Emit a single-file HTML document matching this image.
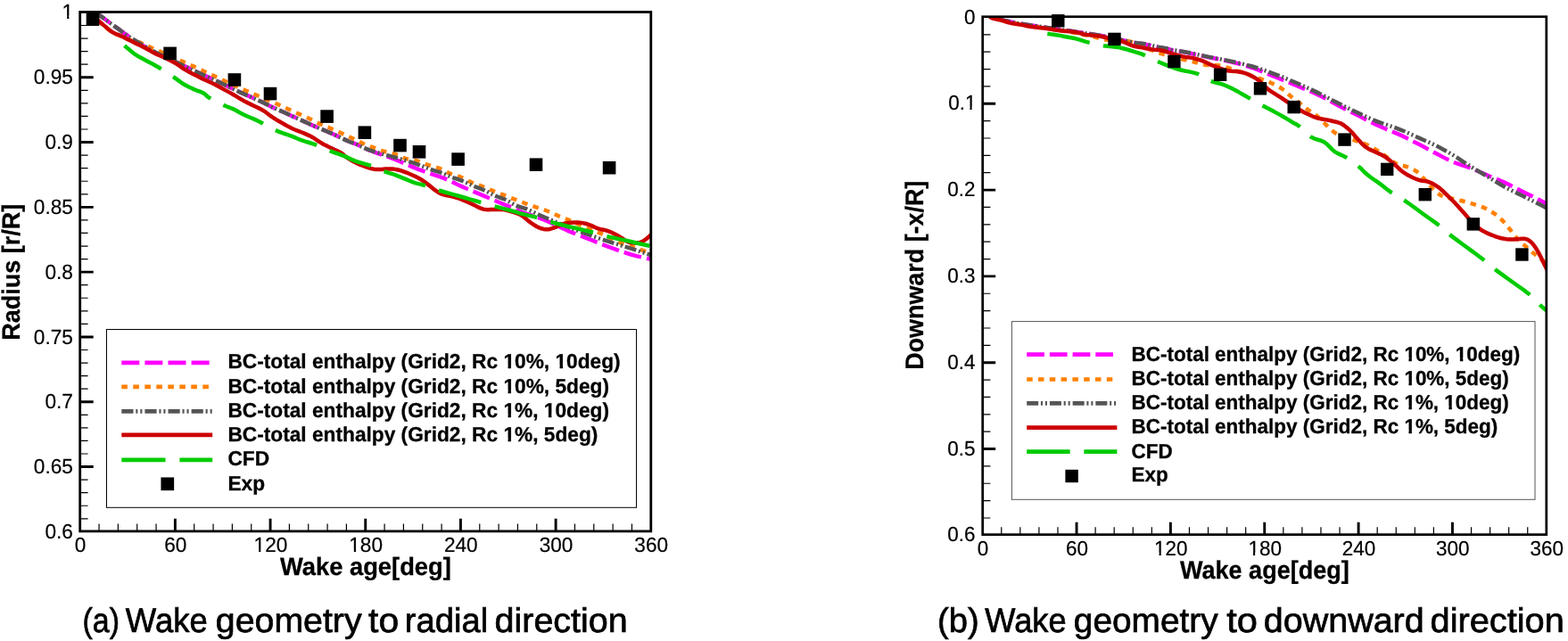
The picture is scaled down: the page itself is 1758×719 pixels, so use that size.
<!DOCTYPE html>
<html lang="en"><head><meta charset="utf-8"><title>Wake geometry</title>
<style>html,body{margin:0;padding:0;background:#fff}body{width:1758px;height:719px;overflow:hidden}svg{display:block;text-rendering:geometricPrecision;font-family:'Liberation Sans', Arial, Helvetica, sans-serif}</style>
</head><body>
<svg width="1758" height="719" viewBox="0 0 1758 719">
<rect width="1758" height="719" fill="#fff"/>
<clipPath id="clipa"><rect x="89.7" y="13.5" width="640.1" height="582.4"/></clipPath>
<g clip-path="url(#clipa)" fill="none" stroke-width="4.5" stroke-linejoin="round">
<path d="M102 11L103.74 12.09L106.23 13.64L109.03 15.43L111.7 17.2L114.13 18.91L116.54 20.68L119.03 22.54L121.7 24.5L124.74 26.7L128.06 29.09L131.26 31.41L134 33.4L136.07 34.94L137.7 36.17L139.16 37.28L140.7 38.4L142.22 39.46L143.64 40.42L145.26 41.5L147.4 42.9L150.26 44.79L153.64 47.01L157.22 49.33L160.7 51.5L163.96 53.46L167.18 55.33L170.49 57.16L174 59L177.73 60.8L181.61 62.55L185.69 64.35L190 66.3L194.75 68.5L199.84 70.88L204.89 73.24L209.5 75.4L213.61 77.35L217.41 79.17L220.89 80.84L224 82.3L226.49 83.42L228.46 84.26L230.42 85.1L232.9 86.2L236.24 87.73L240.1 89.52L243.96 91.32L247.3 92.9L249.75 94.09L251.67 95.06L253.63 96.05L256.2 97.3L259.79 99L264 100.98L268.21 102.95L271.8 104.6L274.36 105.75L276.32 106.59L278.24 107.41L280.7 108.5L284.04 110L287.89 111.73L291.77 113.5L295.2 115.1L297.87 116.43L300.1 117.61L302.33 118.79L305 120.1L308.43 121.66L312.31 123.36L316.16 125.03L319.5 126.5L321.99 127.63L323.95 128.54L325.91 129.46L328.4 130.6L331.76 132.11L335.65 133.85L339.54 135.59L342.9 137.1L345.39 138.25L347.36 139.18L349.32 140.09L351.8 141.2L355.14 142.64L358.99 144.26L362.85 145.88L366.2 147.3L368.68 148.35L370.63 149.18L372.62 150.04L375.2 151.2L378.77 152.88L382.95 154.89L387.13 156.88L390.7 158.5L393.26 159.51L395.21 160.16L397.15 160.79L399.7 161.8L402.84 163.27L406.29 165.02L410.31 166.95L415.1 169L421.06 171.18L427.95 173.53L435.09 175.96L441.8 178.4L448.01 180.94L454.06 183.58L459.82 186.13L465.2 188.4L470.07 190.29L474.53 191.92L478.77 193.41L483 194.9L487.26 196.35L491.46 197.72L495.55 199.11L499.5 200.6L503.25 202.25L506.84 204L510.39 205.77L514 207.5L517.64 209.12L521.26 210.69L525 212.29L529 214L533.45 215.9L538.22 217.92L542.99 219.93L547.4 221.8L551.3 223.47L554.89 225.01L558.38 226.5L562 228L565.98 229.56L570.14 231.14L574.08 232.65L577.4 234L579.43 235.01L580.58 235.78L582.04 236.64L585 237.9L590.08 239.67L596.54 241.76L603.56 244.1L610.3 246.6L616.67 249.37L623.07 252.41L629.41 255.47L635.6 258.3L641.59 260.8L647.42 263.11L653.2 265.34L659 267.6L664.79 269.92L670.53 272.24L676.34 274.54L682.3 276.8L688.6 279.1L695.13 281.42L701.57 283.6L707.6 285.5L713.45 287.09L719.19 288.44L724.24 289.55L728 290.4L730.04 290.91L730.77 291.11L730.87 291.15L731 291.2" stroke="#ff00ff" stroke-dasharray="20 6.1" stroke-dashoffset="19.99"/>
<path d="M100 13.6L102.11 15.61L105.15 18.51L108.42 21.61L111.2 24.2L113.27 26.06L115.01 27.58L116.65 28.96L118.4 30.4L120.28 31.98L122.19 33.59L124.16 35.13L126.2 36.5L128.37 37.64L130.65 38.62L132.93 39.51L135.1 40.4L137.14 41.32L139.11 42.21L141.03 43.05L142.9 43.8L144.72 44.42L146.47 44.94L148.22 45.41L150 45.9L151.73 46.33L153.41 46.7L155.24 47.17L157.4 47.9L160.02 49L162.98 50.36L166.07 51.82L169.1 53.2L172.04 54.46L174.98 55.7L177.91 56.94L180.8 58.2L183.6 59.5L186.35 60.83L189.12 62.16L192 63.5L195.04 64.84L198.19 66.19L201.37 67.55L204.5 68.9L207.58 70.25L210.65 71.59L213.69 72.94L216.7 74.3L219.65 75.67L222.56 77.04L225.47 78.42L228.4 79.8L231.39 81.2L234.42 82.6L237.44 84L240.4 85.4L243.29 86.79L246.12 88.17L248.94 89.54L251.8 90.9L254.7 92.24L257.62 93.56L260.55 94.87L263.5 96.2L266.45 97.55L269.41 98.91L272.39 100.26L275.4 101.6L278.46 102.91L281.56 104.21L284.65 105.5L287.7 106.8L290.69 108.11L293.64 109.42L296.58 110.72L299.5 112L302.4 113.23L305.27 114.42L308.16 115.63L311.1 116.9L314.14 118.26L317.23 119.67L320.34 121.1L323.4 122.5L326.4 123.87L329.37 125.22L332.33 126.56L335.3 127.9L338.31 129.22L341.34 130.54L344.35 131.86L347.3 133.2L350.13 134.59L352.89 136.01L355.65 137.42L358.5 138.8L361.49 140.13L364.56 141.42L367.65 142.7L370.7 144L373.7 145.31L376.68 146.62L379.64 147.95L382.6 149.3L385.56 150.68L388.51 152.08L391.46 153.49L394.4 154.9L397.32 156.32L400.22 157.74L403.14 159.15L406.1 160.5L409.14 161.79L412.23 163.03L415.32 164.23L418.4 165.4L421.43 166.57L424.44 167.71L427.45 168.8L430.5 169.8L433.61 170.62L436.76 171.31L439.9 172.02L443 172.9L446.03 174.07L449.01 175.44L451.98 176.78L455 177.9L458.07 178.65L461.16 179.18L464.28 179.69L467.4 180.4L470.53 181.42L473.67 182.61L476.83 183.85L480 185L483.22 185.98L486.48 186.89L489.69 187.82L492.8 188.9L495.72 190.21L498.51 191.68L501.3 193.16L504.2 194.5L507.29 195.61L510.48 196.59L513.69 197.57L516.8 198.7L519.78 200.07L522.67 201.58L525.56 203.1L528.5 204.5L531.52 205.7L534.59 206.8L537.66 207.87L540.7 209L543.69 210.22L546.66 211.49L549.62 212.76L552.6 214L555.59 215.19L558.58 216.36L561.58 217.52L564.6 218.7L567.66 219.9L570.75 221.11L573.84 222.31L576.9 223.5L579.92 224.67L582.91 225.83L585.9 226.98L588.9 228.1L591.92 229.2L594.94 230.28L597.97 231.35L601 232.4L604.05 233.41L607.1 234.39L610.15 235.4L613.2 236.5L616.24 237.75L619.27 239.11L622.29 240.48L625.3 241.8L628.28 243.02L631.24 244.19L634.2 245.37L637.2 246.6L640.24 247.91L643.32 249.27L646.41 250.64L649.5 252L652.61 253.35L655.74 254.71L658.85 256.03L661.9 257.3L664.88 258.46L667.81 259.54L670.71 260.62L673.6 261.8L676.46 263.1L679.29 264.48L682.12 265.89L685 267.3L687.94 268.73L690.91 270.19L693.9 271.6L696.9 272.9L699.91 274.03L702.92 275.04L705.96 276.01L709 277L712.12 278.04L715.3 279.09L718.4 280.12L721.3 281.1L724.14 282.08L726.92 283.06L729.32 283.91L731 284.5" stroke="#ff8000" stroke-dasharray="6.6 6.4" stroke-dashoffset="0.32"/>
<path d="M102 11L103.74 12.09L106.23 13.64L109.03 15.43L111.7 17.2L114.13 18.91L116.54 20.68L119.03 22.54L121.7 24.5L124.74 26.7L128.06 29.09L131.26 31.41L134 33.4L136.07 34.94L137.7 36.17L139.16 37.28L140.7 38.4L142.22 39.48L143.64 40.46L145.26 41.53L147.4 42.9L150.26 44.69L153.64 46.76L157.22 48.93L160.7 51L163.96 52.92L167.18 54.79L170.49 56.64L174 58.5L177.73 60.33L181.61 62.13L185.69 63.99L190 66L194.75 68.28L199.84 70.74L204.89 73.18L209.5 75.4L213.61 77.37L217.41 79.19L220.89 80.84L224 82.3L226.49 83.42L228.46 84.26L230.42 85.1L232.9 86.2L236.24 87.73L240.1 89.52L243.96 91.32L247.3 92.9L249.75 94.09L251.67 95.06L253.63 96.05L256.2 97.3L259.79 99L264 100.98L268.21 102.95L271.8 104.6L274.36 105.75L276.32 106.59L278.24 107.41L280.7 108.5L284.04 110L287.89 111.73L291.77 113.5L295.2 115.1L297.87 116.43L300.1 117.61L302.33 118.79L305 120.1L308.43 121.66L312.31 123.36L316.16 125.03L319.5 126.5L321.99 127.63L323.95 128.54L325.91 129.46L328.4 130.6L331.76 132.11L335.65 133.85L339.54 135.59L342.9 137.1L345.39 138.25L347.36 139.18L349.32 140.09L351.8 141.2L355.14 142.64L358.99 144.26L362.85 145.88L366.2 147.3L368.68 148.35L370.63 149.18L372.62 150.04L375.2 151.2L378.77 152.88L382.95 154.89L387.13 156.88L390.7 158.5L393.26 159.52L395.21 160.18L397.15 160.82L399.7 161.8L402.91 163.28L406.5 165.04L410.54 166.9L415.1 168.7L420.34 170.37L426.16 172.01L432.31 173.67L438.5 175.4L444.91 177.23L451.59 179.12L458.13 181.03L464.1 182.9L469.41 184.78L474.29 186.68L478.74 188.46L482.8 190L486.3 191.17L489.3 192.08L492.1 192.92L495 193.9L498.1 195.12L501.22 196.45L504.31 197.78L507.3 199L510.11 200.01L512.78 200.89L515.49 201.8L518.4 202.9L521.64 204.31L525.1 205.92L528.56 207.54L531.8 209L534.71 210.18L537.42 211.19L540.09 212.21L542.9 213.4L545.9 214.87L549.01 216.5L552.14 218.13L555.2 219.6L558.16 220.77L561.06 221.77L563.95 222.78L566.9 224L569.93 225.58L573 227.38L576.07 229.17L579.1 230.7L581.92 231.77L584.61 232.56L587.47 233.4L590.8 234.6L594.65 236.29L598.87 238.28L603.46 240.46L608.4 242.7L613.78 245.03L619.57 247.5L625.6 250.02L631.7 252.5L637.88 254.96L644.23 257.42L650.63 259.85L657 262.2L663.37 264.48L669.77 266.7L676.11 268.85L682.3 270.9L688.31 272.82L694.19 274.64L699.97 276.41L705.7 278.2L711.8 280.17L718.12 282.24L723.81 284.12L728 285.5L730.18 286.22L730.89 286.46L730.91 286.47L731 286.5" stroke="#555555" stroke-dasharray="13.2 2.8 2.1 2.9 2.1 3" stroke-dashoffset="21.15"/>
<path d="M100 13.6L102.11 15.55L105.15 18.36L108.42 21.37L111.2 23.9L113.27 25.74L115.01 27.26L116.65 28.65L118.4 30.1L120.28 31.68L122.19 33.29L124.16 34.83L126.2 36.2L128.37 37.33L130.65 38.29L132.93 39.18L135.1 40.1L137.1 41.06L139 42.02L140.9 42.99L142.9 44L144.99 45.04L147.14 46.09L149.39 47.2L151.8 48.4L154.44 49.7L157.26 51.09L160.15 52.54L163 54L165.83 55.54L168.69 57.16L171.48 58.72L174.1 60.1L176.37 61.16L178.41 62.01L180.51 62.88L183 64L186.12 65.48L189.65 67.18L193.2 68.97L196.4 70.7L199.05 72.37L201.39 74.04L203.66 75.69L206.1 77.3L208.8 78.87L211.61 80.41L214.47 81.92L217.3 83.4L220.08 84.85L222.86 86.27L225.63 87.65L228.4 89L231.17 90.27L233.94 91.47L236.72 92.69L239.5 94L242.3 95.45L245.1 96.98L247.9 98.55L250.7 100.1L253.48 101.61L256.25 103.11L259.02 104.63L261.8 106.2L264.6 107.86L267.4 109.58L270.2 111.29L273 112.9L275.78 114.38L278.56 115.78L281.33 117.13L284.1 118.5L286.91 119.84L289.73 121.15L292.52 122.51L295.2 124L297.71 125.69L300.1 127.53L302.49 129.4L305 131.2L307.68 132.92L310.46 134.62L313.29 136.28L316.1 137.9L318.9 139.5L321.7 141.09L324.5 142.6L327.3 144L330.08 145.23L332.86 146.32L335.63 147.38L338.4 148.5L341.17 149.66L343.94 150.83L346.72 152.08L349.5 153.5L352.3 155.18L355.1 157.06L357.9 158.96L360.7 160.7L363.48 162.21L366.25 163.61L369.02 164.94L371.8 166.3L374.75 167.72L377.82 169.16L380.68 170.55L383 171.8L384.4 172.8L385.16 173.62L385.91 174.49L387.3 175.6L389.6 177.12L392.43 178.91L395.47 180.71L398.4 182.3L401.25 183.63L404.16 184.81L406.96 185.87L409.5 186.8L411.71 187.61L413.68 188.28L415.5 188.84L417.3 189.3L419.03 189.65L420.65 189.89L422.27 190.03L424 190.1L425.85 190.05L427.76 189.9L429.75 189.72L431.8 189.6L433.95 189.52L436.18 189.46L438.45 189.46L440.7 189.6L442.87 189.86L445.01 190.23L447.21 190.73L449.6 191.4L452.24 192.27L455.06 193.32L457.95 194.48L460.8 195.7L463.61 196.95L466.44 198.27L469.22 199.68L471.9 201.2L474.49 202.91L477.01 204.76L479.42 206.64L481.7 208.4L483.79 210.05L485.73 211.66L487.6 213.16L489.5 214.5L491.37 215.67L493.19 216.69L495.12 217.59L497.3 218.4L499.84 219.05L502.64 219.55L505.55 220.05L508.4 220.7L511.17 221.54L513.94 222.48L516.72 223.51L519.5 224.6L522.3 225.77L525.1 227.03L527.9 228.32L530.7 229.6L533.48 230.96L536.25 232.38L539.02 233.67L541.8 234.6L544.6 235.05L547.4 235.16L550.2 235.12L553 235.1L555.78 235.07L558.56 234.96L561.33 234.91L564.1 235.1L566.91 235.58L569.73 236.26L572.52 237.06L575.2 237.9L577.74 238.71L580.19 239.54L582.59 240.53L585 241.8L587.43 243.5L589.85 245.53L592.27 247.61L594.7 249.5L597.15 251.2L599.6 252.81L602.05 254.25L604.5 255.4L606.93 256.27L609.36 256.9L611.78 257.26L614.2 257.3L616.62 256.94L619.04 256.21L621.47 255.31L623.9 254.4L626.25 253.43L628.56 252.33L630.98 251.29L633.7 250.5L636.88 249.98L640.38 249.63L643.94 249.47L647.3 249.5L650.36 249.72L653.27 250.13L656.13 250.73L659 251.5L661.9 252.57L664.8 253.89L667.7 255.25L670.6 256.4L673.52 257.2L676.44 257.79L679.37 258.42L682.3 259.3L685.23 260.52L688.15 261.96L691.08 263.51L694 265.1L696.92 266.89L699.85 268.86L702.78 270.65L705.7 271.9L708.76 272.45L711.92 272.51L714.89 272.26L717.4 271.9L719.29 271.4L720.73 270.69L721.96 269.86L723.2 269L724.51 268.08L725.78 267.06L726.95 266.04L728 265.1L728.95 264.2L729.8 263.31L730.5 262.54L731 262" stroke="#cc0000"/>
<path d="M139.6 51.2L141.82 53.09L145 55.81L148.53 58.73L151.8 61.2L154.56 62.95L157.16 64.37L159.88 65.75L163 67.4L166.69 69.4L170.76 71.59L174.97 73.91L179.1 76.3L183.2 78.86L187.36 81.57L191.37 84.25L195 86.7L198.11 88.88L200.84 90.9L203.43 92.77L206.1 94.5L208.9 96.08L211.7 97.51L214.5 98.83L217.3 100.1L220.2 101.29L223.17 102.39L225.98 103.47L228.4 104.6L230.04 105.74L231.13 106.86L232.38 108.11L234.5 109.6L237.96 111.53L242.29 113.78L246.77 116.01L250.7 117.9L253.83 119.25L256.56 120.29L259.14 121.25L261.8 122.4L264.46 123.78L267.03 125.26L269.79 126.84L273 128.5L276.8 130.21L281.02 131.99L285.48 133.9L290 136L294.6 138.44L299.36 141.15L304.17 143.83L308.9 146.2L313.71 148.17L318.59 149.91L323.23 151.46L327.3 152.9L330.48 154.17L333.03 155.26L335.48 156.29L338.4 157.4L341.98 158.58L345.92 159.76L349.99 161.02L354 162.4L357.85 163.96L361.67 165.66L365.55 167.4L369.6 169.1L374.03 170.77L378.73 172.46L383.29 174.09L387.3 175.6L390.41 176.95L392.91 178.19L395.39 179.38L398.4 180.6L402.21 181.84L406.47 183.06L410.87 184.33L415.1 185.7L419.15 187.26L423.18 188.96L427.06 190.63L430.7 192.1L434.04 193.28L437.13 194.27L440.09 195.2L443 196.2L445.86 197.3L448.62 198.43L451.35 199.57L454.1 200.7L456.89 201.84L459.68 203.01L462.46 204.11L465.2 205.1L467.76 205.85L470.2 206.43L472.79 207.05L475.8 207.9L479.23 209.06L482.96 210.41L487.08 211.88L491.7 213.4L497 214.97L502.88 216.62L508.99 218.31L515 220L521.05 221.74L527.23 223.54L533.18 225.26L538.5 226.8L542.83 228.04L546.45 229.08L550 230.07L554.1 231.2L559.25 232.58L565.01 234.09L570.59 235.55L575.2 236.8L578.31 237.71L580.44 238.41L582.41 239.05L585 239.8L588.47 240.68L592.38 241.61L596.5 242.61L600.6 243.7L604.51 244.92L608.39 246.24L612.5 247.62L617.1 249L622.38 250.38L628.15 251.78L634.12 253.19L640 254.6L645.85 256.02L651.79 257.44L657.55 258.85L662.9 260.2L667.49 261.46L671.54 262.66L675.65 263.86L680.4 265.1L686.09 266.42L692.36 267.78L698.8 269.15L705 270.5L711.33 271.94L717.85 273.44L723.69 274.8L728 275.8L730.23 276.31L730.94 276.48L730.93 276.48L731 276.5" stroke="#00cc00" stroke-dasharray="49.2 15.9" stroke-dashoffset="0.3"/>
</g>
<rect x="89.7" y="13.5" width="640.1" height="582.4" fill="none" stroke="#000" stroke-width="2.8"/>
<g fill="#000">
<rect x="96.7" y="14.4" width="14.6" height="14.6"/>
<rect x="183.3" y="52.6" width="14.6" height="14.6"/>
<rect x="255.6" y="82.2" width="14.6" height="14.6"/>
<rect x="295.7" y="97.8" width="14.6" height="14.6"/>
<rect x="359.3" y="123.3" width="14.6" height="14.6"/>
<rect x="401.6" y="141.4" width="14.6" height="14.6"/>
<rect x="441.2" y="155.8" width="14.6" height="14.6"/>
<rect x="462.7" y="163" width="14.6" height="14.6"/>
<rect x="506.3" y="171.3" width="14.6" height="14.6"/>
<rect x="593.7" y="177.4" width="14.6" height="14.6"/>
<rect x="675.8" y="180.9" width="14.6" height="14.6"/>
</g>
<g stroke="#000" fill="none">
<path d="M196.38 595.9V581.7M303.07 595.9V581.7M409.75 595.9V581.7M516.43 595.9V581.7M623.12 595.9V581.7M89.7 86.75H104.7M89.7 159.55H104.7M89.7 232.35H104.7M89.7 305.15H104.7M89.7 377.95H104.7M89.7 450.75H104.7M89.7 523.55H104.7" stroke-width="2.9"/>
<path d="M111.04 595.9V587.5M132.37 595.9V587.5M153.71 595.9V587.5M175.05 595.9V587.5M217.72 595.9V587.5M239.06 595.9V587.5M260.39 595.9V587.5M281.73 595.9V587.5M324.4 595.9V587.5M345.74 595.9V587.5M367.08 595.9V587.5M388.41 595.9V587.5M431.09 595.9V587.5M452.42 595.9V587.5M473.76 595.9V587.5M495.1 595.9V587.5M537.77 595.9V587.5M559.11 595.9V587.5M580.44 595.9V587.5M601.78 595.9V587.5M644.45 595.9V587.5M665.79 595.9V587.5M687.13 595.9V587.5M708.46 595.9V587.5M89.7 28.51H98.6M89.7 43.07H98.6M89.7 57.63H98.6M89.7 72.19H98.6M89.7 101.31H98.6M89.7 115.87H98.6M89.7 130.43H98.6M89.7 144.99H98.6M89.7 174.11H98.6M89.7 188.67H98.6M89.7 203.23H98.6M89.7 217.79H98.6M89.7 246.91H98.6M89.7 261.47H98.6M89.7 276.03H98.6M89.7 290.59H98.6M89.7 319.71H98.6M89.7 334.27H98.6M89.7 348.83H98.6M89.7 363.39H98.6M89.7 392.51H98.6M89.7 407.07H98.6M89.7 421.63H98.6M89.7 436.19H98.6M89.7 465.31H98.6M89.7 479.87H98.6M89.7 494.43H98.6M89.7 508.99H98.6M89.7 538.11H98.6M89.7 552.67H98.6M89.7 567.23H98.6M89.7 581.79H98.6" stroke-width="1.2"/>
</g>
<g font-size="23.3" fill="#000" stroke="#000" stroke-width="0.2">
<g text-anchor="middle">
<text transform="translate(90.1 619.35) scale(0.972 1)">0</text>
<text transform="translate(196.78 619.35) scale(0.972 1)">60</text>
<text transform="translate(303.47 619.35) scale(0.972 1)">120</text>
<path transform="translate(303.47 619.35) scale(0.972 1)" d="M-18.96 -3.04H-13.73V1.3H-18.96ZM-11.37 -3.04H-6.32V1.3H-11.37Z" fill="#fff" stroke="none"/>
<text transform="translate(410.15 619.35) scale(0.972 1)">180</text>
<path transform="translate(410.15 619.35) scale(0.972 1)" d="M-18.96 -3.04H-13.73V1.3H-18.96ZM-11.37 -3.04H-6.32V1.3H-11.37Z" fill="#fff" stroke="none"/>
<text transform="translate(516.83 619.35) scale(0.972 1)">240</text>
<text transform="translate(623.52 619.35) scale(0.972 1)">300</text>
<text transform="translate(730.2 619.35) scale(0.972 1)">360</text>
</g>
<g text-anchor="end">
<text transform="translate(82.2 20.5) scale(0.972 1)">1</text>
<path transform="translate(82.2 20.5) scale(0.972 1)" d="M-12.49 -3.04H-7.26V1.3H-12.49ZM-4.9 -3.04H0.15V1.3H-4.9Z" fill="#fff" stroke="none"/>
<text transform="translate(81.9 94.3) scale(0.972 1)">0.95</text>
<text transform="translate(81.9 167.1) scale(0.972 1)">0.9</text>
<text transform="translate(81.9 239.9) scale(0.972 1)">0.85</text>
<text transform="translate(81.9 312.7) scale(0.972 1)">0.8</text>
<text transform="translate(81.9 385.5) scale(0.972 1)">0.75</text>
<text transform="translate(81.9 458.3) scale(0.972 1)">0.7</text>
<text transform="translate(81.9 531.1) scale(0.972 1)">0.65</text>
<text transform="translate(81.9 603.9) scale(0.972 1)">0.6</text>
</g>
</g>
<g font-size="28.1" font-weight="bold" text-anchor="middle" fill="#000" stroke="#000" stroke-width="0.3">
<text x="409.9" y="645.2" textLength="191.8" lengthAdjust="spacingAndGlyphs">Wake age[deg]</text>
<text transform="translate(22 305.3) rotate(-90)" textLength="153" lengthAdjust="spacingAndGlyphs">Radius [r/R]</text>
</g>
<rect x="119.5" y="369.5" width="594" height="199.8" fill="#fff" stroke="#000" stroke-width="1.0"/>
<g fill="none" stroke-width="4.7">
<path d="M136.3 406.8H238.2" stroke="#ff00ff" stroke-dasharray="20 6.1"/>
<path d="M136.3 433.9H238.2" stroke="#ff8000" stroke-dasharray="6.6 6.4"/>
<path d="M136.3 461.4H238.2" stroke="#555555" stroke-dasharray="13.2 2.8 2.1 2.9 2.1 3"/>
<path d="M136.3 487.9H238.2" stroke="#cc0000"/>
<path d="M136.3 515.8H238.2" stroke="#00cc00" stroke-dasharray="49.2 15.9"/>
</g>
<rect x="180.45" y="535.45" width="14.7" height="14.7" fill="#000"/>
<g font-size="23.05" font-weight="bold" fill="#000" stroke="#000" stroke-width="0.3">
<text transform="translate(255.4 413.4) scale(0.985 1)">BC-total enthalpy (Grid2, Rc 10%, 10deg)</text>
<path transform="translate(255.4 413.4) scale(0.985 1)" d="M313.82 -3.7H318.9V1.35H313.82ZM322.46 -3.7H327.25V1.35H322.46ZM372.74 -3.7H377.82V1.35H372.74ZM381.38 -3.7H386.17V1.35H381.38Z" fill="#fff" stroke="none"/>
<text transform="translate(255.4 440.9) scale(0.985 1)">BC-total enthalpy (Grid2, Rc 10%, 5deg)</text>
<path transform="translate(255.4 440.9) scale(0.985 1)" d="M313.82 -3.7H318.9V1.35H313.82ZM322.46 -3.7H327.25V1.35H322.46Z" fill="#fff" stroke="none"/>
<text transform="translate(255.4 468.2) scale(0.985 1)">BC-total enthalpy (Grid2, Rc 1%, 10deg)</text>
<path transform="translate(255.4 468.2) scale(0.985 1)" d="M313.82 -3.7H318.9V1.35H313.82ZM322.46 -3.7H327.25V1.35H322.46ZM359.93 -3.7H365.01V1.35H359.93ZM368.57 -3.7H373.36V1.35H368.57Z" fill="#fff" stroke="none"/>
<text transform="translate(255.4 495.2) scale(0.985 1)">BC-total enthalpy (Grid2, Rc 1%, 5deg)</text>
<path transform="translate(255.4 495.2) scale(0.985 1)" d="M313.82 -3.7H318.9V1.35H313.82ZM322.46 -3.7H327.25V1.35H322.46Z" fill="#fff" stroke="none"/>
<text transform="translate(255.4 522.4) scale(0.985 1)">CFD</text>
<text transform="translate(255.4 550) scale(0.985 1)">Exp</text>
</g>
<text y="709" font-size="38.4" fill="#000" stroke="#000" stroke-width="0.7"><tspan x="92.49" textLength="41.51" lengthAdjust="spacingAndGlyphs">(a)</tspan> <tspan x="140.84" textLength="91.85" lengthAdjust="spacingAndGlyphs">Wake</tspan> <tspan x="241.85" textLength="163.73" lengthAdjust="spacingAndGlyphs">geometry</tspan> <tspan x="413.08" textLength="34.14" lengthAdjust="spacingAndGlyphs">to</tspan> <tspan x="453.86" textLength="93.39" lengthAdjust="spacingAndGlyphs">radial</tspan> <tspan x="554.54" textLength="149.22" lengthAdjust="spacingAndGlyphs">direction</tspan></text>
<clipPath id="clipb"><rect x="1101.7" y="18.75" width="632.1" height="580.9"/></clipPath>
<g clip-path="url(#clipb)" fill="none" stroke-width="4.5" stroke-linejoin="round">
<path d="M1109.5 18.3L1111.76 18.99L1115 19.99L1118.62 21.07L1122 22L1125.06 22.74L1128.09 23.39L1131.08 24L1134 24.6L1136.49 25.15L1138.69 25.64L1141.29 26.16L1145 26.8L1150.15 27.58L1156.31 28.46L1163.07 29.41L1170 30.4L1177.15 31.44L1184.69 32.54L1192.38 33.67L1200 34.8L1207.73 35.93L1215.62 37.07L1223.2 38.21L1230 39.3L1235.66 40.32L1240.51 41.3L1245.11 42.28L1250 43.3L1255.57 44.46L1261.45 45.7L1267.05 46.87L1271.8 47.8L1275.3 48.37L1277.93 48.69L1280.3 48.96L1283 49.4L1286.2 50.09L1289.58 50.91L1293 51.75L1296.3 52.5L1299.58 53.15L1302.88 53.74L1305.96 54.29L1308.6 54.8L1310.45 55.24L1311.73 55.61L1313.05 55.98L1315 56.4L1317.6 56.81L1320.57 57.22L1324.11 57.74L1328.4 58.5L1333.72 59.6L1339.89 60.96L1346.44 62.41L1352.9 63.8L1359.22 65.06L1365.63 66.29L1372.07 67.58L1378.5 69L1384.9 70.55L1391.31 72.19L1397.71 73.98L1404.1 76L1410.49 78.33L1416.87 80.91L1423.22 83.59L1429.5 86.2L1435.71 88.71L1441.88 91.21L1447.97 93.7L1454 96.2L1459.93 98.65L1465.77 101.06L1471.58 103.54L1477.4 106.2L1483.22 109.11L1489.01 112.19L1494.85 115.35L1500.8 118.5L1506.98 121.67L1513.32 124.9L1519.6 128.08L1525.6 131.1L1531.16 133.93L1536.44 136.62L1541.68 139.23L1547.1 141.8L1552.84 144.29L1558.76 146.7L1564.67 149.11L1570.4 151.6L1575.97 154.24L1581.45 156.97L1586.75 159.69L1591.8 162.3L1596.45 164.75L1600.78 167.11L1605.04 169.43L1609.5 171.8L1614.23 174.3L1619.09 176.87L1624 179.35L1628.9 181.6L1633.77 183.47L1638.64 185.09L1643.52 186.66L1648.4 188.4L1653.28 190.39L1658.16 192.52L1663.03 194.68L1667.9 196.8L1672.75 198.81L1677.6 200.76L1682.45 202.76L1687.3 204.9L1692.17 207.23L1697.04 209.7L1701.92 212.22L1706.8 214.7L1711.9 217.23L1717.16 219.81L1722.11 222.27L1726.3 224.4L1729.64 226.22L1732.37 227.81L1734.49 229.09L1736 230" stroke="#ff00ff" stroke-dasharray="19.7 6.01" stroke-dashoffset="15.45"/>
<path d="M1109.5 18.3L1111.5 19.06L1114.31 20.14L1117.84 21.38L1122 22.6L1126.96 23.83L1132.72 25.14L1138.86 26.43L1145 27.6L1150.99 28.59L1157.06 29.47L1163.35 30.34L1170 31.3L1177.27 32.4L1185 33.57L1192.73 34.78L1200 36L1206.85 37.26L1213.47 38.58L1219.61 39.85L1225 41L1229.34 42.03L1232.84 42.97L1236.05 43.8L1239.5 44.5L1243.38 45.03L1247.38 45.42L1251.32 45.73L1255 46L1258.2 46.08L1261.07 45.99L1264.01 46.08L1267.4 46.7L1271.45 48.09L1275.92 50.01L1280.53 52.1L1285 54L1289.39 55.67L1293.79 57.29L1298.03 58.79L1301.9 60.1L1305.25 61.14L1308.21 61.98L1311.05 62.73L1314 63.5L1317.14 64.32L1320.34 65.14L1323.55 65.93L1326.7 66.7L1329.77 67.41L1332.79 68.09L1335.82 68.77L1338.9 69.5L1342.04 70.38L1345.23 71.36L1348.44 72.25L1351.7 72.9L1355.03 73.13L1358.43 73.08L1361.81 73.01L1365.1 73.2L1368.29 73.74L1371.42 74.49L1374.47 75.34L1377.4 76.2L1380.18 77.09L1382.84 78.05L1385.43 79.01L1388 79.9L1390.59 80.69L1393.16 81.42L1395.65 82.15L1398 82.9L1400.14 83.73L1402.13 84.59L1404.05 85.43L1406 86.2L1407.89 86.81L1409.72 87.32L1411.66 87.87L1413.9 88.6L1416.56 89.56L1419.51 90.66L1422.59 91.88L1425.6 93.2L1428.57 94.61L1431.57 96.11L1434.52 97.74L1437.3 99.5L1439.85 101.47L1442.24 103.61L1444.58 105.79L1447 107.9L1449.55 109.89L1452.15 111.84L1454.75 113.76L1457.3 115.7L1459.76 117.68L1462.18 119.67L1464.58 121.63L1467 123.5L1469.44 125.18L1471.89 126.73L1474.34 128.34L1476.8 130.2L1479.27 132.44L1481.76 134.92L1484.24 137.47L1486.7 139.9L1489.12 142.26L1491.51 144.61L1493.92 146.8L1496.4 148.7L1498.96 150.2L1501.57 151.41L1504.24 152.46L1507 153.5L1509.8 154.51L1512.65 155.42L1515.62 156.35L1518.8 157.4L1522.23 158.53L1525.86 159.71L1529.61 161.06L1533.4 162.7L1537.21 164.69L1541.08 166.95L1545.01 169.41L1549 172L1553.17 174.95L1557.49 178.22L1561.69 181.31L1565.5 183.7L1568.77 185.06L1571.68 185.74L1574.42 186.22L1577.2 187L1580.12 188.15L1583.05 189.43L1585.88 190.86L1588.5 192.5L1590.8 194.36L1592.86 196.42L1594.87 198.64L1597 201L1599.3 203.61L1601.67 206.45L1604.08 209.26L1606.5 211.8L1608.86 214.04L1611.21 216.11L1613.65 217.94L1616.3 219.5L1619.26 220.69L1622.46 221.56L1625.72 222.27L1628.9 223L1631.96 223.73L1634.97 224.4L1637.97 225.07L1641 225.8L1644.06 226.6L1647.14 227.45L1650.23 228.35L1653.3 229.3L1656.38 230.28L1659.47 231.3L1662.53 232.42L1665.5 233.7L1668.4 235.18L1671.24 236.81L1673.98 238.56L1676.6 240.4L1679.05 242.31L1681.36 244.31L1683.59 246.43L1685.8 248.7L1687.99 251.17L1690.13 253.8L1692.26 256.51L1694.4 259.2L1696.58 261.94L1698.76 264.76L1700.94 267.47L1703.1 269.9L1705.18 271.91L1707.21 273.62L1709.29 275.27L1711.5 277.1L1713.95 279.24L1716.55 281.54L1719.15 283.82L1721.6 285.9L1723.88 287.75L1726.06 289.47L1728.11 291.05L1730 292.5L1731.81 293.88L1733.53 295.16L1734.98 296.24L1736 297" stroke="#ff8000" stroke-dasharray="6.5 6.3" stroke-dashoffset="9.37"/>
<path d="M1109.5 18.3L1111.76 18.99L1115 19.99L1118.62 21.07L1122 22L1125.06 22.74L1128.09 23.39L1131.08 24L1134 24.6L1136.49 25.15L1138.69 25.64L1141.29 26.16L1145 26.8L1150.15 27.58L1156.31 28.46L1163.07 29.41L1170 30.4L1177.15 31.44L1184.69 32.54L1192.38 33.67L1200 34.8L1207.73 35.93L1215.62 37.07L1223.2 38.21L1230 39.3L1235.66 40.32L1240.51 41.3L1245.11 42.28L1250 43.3L1255.57 44.46L1261.45 45.71L1267.05 46.88L1271.8 47.8L1275.3 48.33L1277.93 48.59L1280.3 48.8L1283 49.2L1286.2 49.88L1289.58 50.7L1293 51.55L1296.3 52.3L1299.58 52.92L1302.88 53.49L1305.96 54.01L1308.6 54.5L1310.45 54.95L1311.73 55.36L1313.05 55.77L1315 56.2L1317.6 56.6L1320.57 56.98L1324.11 57.47L1328.4 58.2L1333.72 59.28L1339.89 60.61L1346.44 62.04L1352.9 63.4L1359.22 64.64L1365.63 65.84L1372.07 67.08L1378.5 68.4L1384.93 69.8L1391.38 71.24L1397.79 72.79L1404.1 74.5L1410.29 76.39L1416.39 78.44L1422.42 80.59L1428.4 82.8L1434.31 85.06L1440.16 87.41L1445.97 89.82L1451.8 92.3L1457.66 94.85L1463.54 97.46L1469.39 100.15L1475.2 102.9L1480.92 105.75L1486.58 108.68L1492.24 111.65L1498 114.6L1503.89 117.56L1509.87 120.54L1515.86 123.47L1521.8 126.3L1527.66 129.02L1533.48 131.67L1539.28 134.21L1545.1 136.6L1550.95 138.75L1556.8 140.7L1562.65 142.65L1568.5 144.8L1574.46 147.28L1580.51 149.96L1586.37 152.64L1591.8 155.1L1596.58 157.2L1600.89 159.07L1605.09 160.96L1609.5 163.1L1614.23 165.54L1619.09 168.16L1624 170.93L1628.9 173.8L1633.77 176.84L1638.64 180.04L1643.52 183.27L1648.4 186.4L1653.28 189.39L1658.16 192.31L1663.03 195.2L1667.9 198.1L1672.75 201.07L1677.6 204.08L1682.45 207.02L1687.3 209.8L1692.17 212.36L1697.04 214.77L1701.92 217.11L1706.8 219.5L1711.9 222.05L1717.16 224.68L1722.11 227.17L1726.3 229.3L1729.64 231.05L1732.37 232.51L1734.49 233.67L1736 234.5" stroke="#555555" stroke-dasharray="13 2.76 2.07 2.86 2.07 2.96" stroke-dashoffset="14.93"/>
<path d="M1109.5 18.3L1109.98 18.72L1110.64 19.31L1111.6 19.98L1113 20.6L1114.97 21.13L1117.42 21.64L1120.1 22.18L1122.8 22.8L1125.5 23.59L1128.32 24.48L1131.17 25.36L1134 26.1L1136.78 26.63L1139.56 27.02L1142.33 27.38L1145.1 27.8L1147.87 28.34L1150.64 28.93L1153.42 29.51L1156.2 30L1159 30.36L1161.8 30.64L1164.6 30.9L1167.4 31.2L1170.18 31.57L1172.95 31.97L1175.72 32.38L1178.5 32.8L1181.3 33.23L1184.1 33.68L1186.9 34.11L1189.7 34.5L1192.56 34.82L1195.46 35.09L1198.26 35.34L1200.8 35.6L1202.99 35.85L1204.92 36.09L1206.75 36.36L1208.6 36.7L1210.41 37.15L1212.14 37.69L1213.97 38.23L1216.1 38.7L1218.64 39.06L1221.47 39.37L1224.42 39.66L1227.3 40L1229.87 40.32L1232.29 40.62L1234.99 41.03L1238.4 41.7L1243 42.73L1248.45 44.02L1253.9 45.41L1258.5 46.7L1261.91 47.91L1264.61 49.12L1267.04 50.25L1269.6 51.2L1272.37 51.92L1275.14 52.46L1277.92 52.92L1280.7 53.4L1283.5 53.93L1286.3 54.46L1289.1 54.95L1291.9 55.4L1294.73 55.74L1297.59 56L1300.38 56.29L1303 56.7L1305.26 57.27L1307.26 57.94L1309.35 58.69L1311.9 59.5L1315.15 60.45L1318.86 61.52L1322.64 62.55L1326.1 63.4L1329.11 63.94L1331.89 64.29L1334.58 64.61L1337.3 65.1L1340.08 65.77L1342.86 66.54L1345.63 67.42L1348.4 68.4L1351.07 69.52L1353.67 70.76L1356.41 72.07L1359.5 73.4L1363.19 74.86L1367.29 76.44L1371.4 77.9L1375.1 79L1378.26 79.58L1381.12 79.79L1383.76 79.89L1386.3 80.1L1388.69 80.43L1390.89 80.77L1393.03 81.21L1395.2 81.8L1397.45 82.59L1399.72 83.54L1401.95 84.6L1404.1 85.7L1406.08 86.77L1407.94 87.86L1409.84 89.11L1411.9 90.7L1414.18 92.79L1416.59 95.26L1419.11 97.8L1421.7 100.1L1424.41 102.07L1427.23 103.87L1430.06 105.59L1432.8 107.3L1435.27 108.93L1437.57 110.47L1440.01 112.1L1442.9 114L1446.57 116.4L1450.78 119.14L1454.94 121.81L1458.5 124L1461.2 125.53L1463.37 126.64L1465.33 127.56L1467.4 128.5L1469.57 129.52L1471.71 130.49L1473.92 131.4L1476.3 132.2L1479.01 132.87L1481.96 133.43L1484.85 133.93L1487.4 134.4L1489.4 134.81L1491.04 135.16L1492.64 135.52L1494.5 136L1496.74 136.52L1499.18 137.06L1501.71 137.8L1504.2 138.9L1506.69 140.48L1509.22 142.43L1511.69 144.56L1514 146.7L1516.05 148.81L1517.91 150.98L1519.76 153.21L1521.8 155.5L1524.04 157.95L1526.41 160.54L1528.89 163.03L1531.5 165.2L1534.33 166.95L1537.35 168.4L1540.37 169.7L1543.2 171L1545.77 172.22L1548.17 173.33L1550.52 174.49L1552.9 175.9L1555.32 177.62L1557.74 179.56L1560.17 181.61L1562.6 183.7L1565.05 185.9L1567.5 188.22L1569.95 190.49L1572.4 192.5L1574.83 194.21L1577.26 195.71L1579.68 197.05L1582.1 198.3L1584.52 199.46L1586.94 200.5L1589.36 201.42L1591.8 202.2L1594.24 202.7L1596.69 202.98L1599.16 203.32L1601.7 204L1604.37 205.12L1607.12 206.53L1609.85 208.12L1612.4 209.8L1614.69 211.56L1616.81 213.46L1618.89 215.47L1621.1 217.6L1623.47 219.87L1625.94 222.27L1628.43 224.76L1630.9 227.3L1633.38 229.95L1635.88 232.71L1638.31 235.44L1640.6 238L1642.59 240.29L1644.38 242.4L1646.22 244.51L1648.4 246.8L1651.05 249.46L1654.01 252.34L1657.08 255.12L1660.1 257.5L1663.03 259.34L1665.96 260.82L1668.88 262.1L1671.8 263.3L1674.7 264.47L1677.6 265.52L1680.5 266.45L1683.4 267.2L1686.32 267.78L1689.24 268.19L1692.17 268.46L1695.1 268.6L1698.16 268.51L1701.31 268.22L1704.28 267.92L1706.8 267.8L1708.7 267.85L1710.16 267.99L1711.44 268.31L1712.8 268.9L1714.28 269.77L1715.76 270.87L1717.23 272.21L1718.7 273.8L1720.15 275.66L1721.6 277.78L1723.05 280.11L1724.5 282.6L1726.04 285.44L1727.63 288.58L1729.13 291.64L1730.4 294.2L1731.36 296.13L1732.11 297.66L1732.73 298.93L1733.3 300.1L1733.85 301.21L1734.33 302.17L1734.72 302.95L1735 303.5" stroke="#cc0000"/>
<path d="M1173.5 37.8L1175.39 38.04L1178.11 38.37L1181.17 38.77L1184.1 39.2L1186.84 39.65L1189.61 40.15L1192.41 40.67L1195.2 41.2L1197.92 41.69L1200.61 42.16L1203.39 42.7L1206.4 43.4L1209.68 44.32L1213.16 45.41L1216.8 46.55L1220.6 47.6L1224.57 48.57L1228.72 49.52L1232.99 50.41L1237.3 51.2L1241.75 51.81L1246.34 52.28L1250.86 52.76L1255.1 53.4L1258.98 54.24L1262.62 55.21L1266.13 56.24L1269.6 57.3L1272.99 58.32L1276.27 59.34L1279.56 60.47L1283 61.8L1286.59 63.42L1290.28 65.26L1294.07 67.17L1298 69L1302.25 70.79L1306.74 72.59L1311.12 74.28L1315 75.7L1318.06 76.75L1320.57 77.53L1323.07 78.21L1326.1 79L1329.92 79.83L1334.2 80.65L1338.61 81.62L1342.8 82.9L1346.74 84.74L1350.59 86.97L1354.32 89.19L1357.9 91L1361.3 92.18L1364.55 92.99L1367.67 93.71L1370.7 94.6L1373.59 95.73L1376.35 96.94L1379.06 98.24L1381.8 99.6L1384.6 101.04L1387.41 102.57L1390.21 104.14L1393 105.7L1395.75 107.26L1398.47 108.83L1401.21 110.41L1404 112L1406.86 113.62L1409.76 115.26L1412.68 116.9L1415.6 118.5L1418.53 120.05L1421.48 121.58L1424.41 123.08L1427.3 124.6L1430.12 126.11L1432.89 127.61L1435.64 129.13L1438.4 130.7L1441.27 132.39L1444.21 134.17L1447.01 135.89L1449.5 137.4L1451.4 138.42L1452.88 139.12L1454.42 139.98L1456.5 141.5L1459.3 144.09L1462.54 147.39L1466.03 150.74L1469.6 153.5L1473.34 155.29L1477.29 156.53L1481.2 157.73L1484.8 159.4L1487.93 161.84L1490.76 164.72L1493.51 167.61L1496.4 170.1L1499.48 171.92L1502.62 173.36L1505.84 174.77L1509.1 176.5L1512.5 178.68L1516.03 181.12L1519.48 183.67L1522.7 186.2L1525.51 188.7L1528.04 191.24L1530.58 193.79L1533.4 196.3L1536.64 198.77L1540.13 201.22L1543.68 203.66L1547.1 206.1L1550.28 208.55L1553.34 211.01L1556.44 213.44L1559.7 215.8L1563.23 218.04L1566.94 220.2L1570.67 222.36L1574.3 224.6L1577.85 227.02L1581.38 229.54L1584.77 232.02L1587.9 234.3L1590.58 236.25L1592.93 237.97L1595.28 239.71L1598 241.7L1601.24 244.01L1604.8 246.51L1608.46 249.13L1612 251.8L1615.25 254.48L1618.36 257.21L1621.61 260.06L1625.3 263.1L1629.58 266.38L1634.28 269.86L1639.16 273.44L1644 277L1648.9 280.62L1653.92 284.31L1658.78 287.93L1663.2 291.3L1666.86 294.27L1670 296.97L1673.14 299.66L1676.8 302.6L1681.22 305.9L1686.08 309.4L1691.1 312.98L1696 316.5L1700.89 319.99L1705.87 323.49L1710.61 326.92L1714.8 330.2L1718.34 333.4L1721.4 336.54L1724.09 339.43L1726.5 341.9L1728.64 343.87L1730.46 345.44L1732 346.72L1733.3 347.8L1734.33 348.66L1735.07 349.27L1735.61 349.69L1736 350" stroke="#00cc00" stroke-dasharray="48.46 15.66" stroke-dashoffset="63.3"/>
</g>
<rect x="1101.7" y="18.75" width="632.1" height="580.9" fill="none" stroke="#000" stroke-width="2.7"/>
<g fill="#000">
<rect x="1179.1" y="16.1" width="14.4" height="14.4"/>
<rect x="1242.3" y="36.7" width="14.4" height="14.4"/>
<rect x="1309.2" y="61.8" width="14.4" height="14.4"/>
<rect x="1360.9" y="76.6" width="14.4" height="14.4"/>
<rect x="1405.8" y="92.1" width="14.4" height="14.4"/>
<rect x="1443.5" y="112.9" width="14.4" height="14.4"/>
<rect x="1500.3" y="149.4" width="14.4" height="14.4"/>
<rect x="1548" y="182.7" width="14.4" height="14.4"/>
<rect x="1590.6" y="211" width="14.4" height="14.4"/>
<rect x="1644.6" y="244.2" width="14.4" height="14.4"/>
<rect x="1699.2" y="278.3" width="14.4" height="14.4"/>
</g>
<g stroke="#000" fill="none">
<path d="M1207.05 599.65V585.65M1312.4 599.65V585.65M1417.75 599.65V585.65M1523.1 599.65V585.65M1628.45 599.65V585.65M1101.7 116.27H1116.2M1101.7 213.08H1116.2M1101.7 309.9H1116.2M1101.7 406.72H1116.2M1101.7 503.53H1116.2" stroke-width="2.9"/>
<path d="M1122.77 599.65V591.35M1143.84 599.65V591.35M1164.91 599.65V591.35M1185.98 599.65V591.35M1228.12 599.65V591.35M1249.19 599.65V591.35M1270.26 599.65V591.35M1291.33 599.65V591.35M1333.47 599.65V591.35M1354.54 599.65V591.35M1375.61 599.65V591.35M1396.68 599.65V591.35M1438.82 599.65V591.35M1459.89 599.65V591.35M1480.96 599.65V591.35M1502.03 599.65V591.35M1544.17 599.65V591.35M1565.24 599.65V591.35M1586.31 599.65V591.35M1607.38 599.65V591.35M1649.52 599.65V591.35M1670.59 599.65V591.35M1691.66 599.65V591.35M1712.73 599.65V591.35M1101.7 38.81H1110.4M1101.7 58.18H1110.4M1101.7 77.54H1110.4M1101.7 96.9H1110.4M1101.7 135.63H1110.4M1101.7 154.99H1110.4M1101.7 174.36H1110.4M1101.7 193.72H1110.4M1101.7 232.45H1110.4M1101.7 251.81H1110.4M1101.7 271.17H1110.4M1101.7 290.54H1110.4M1101.7 329.26H1110.4M1101.7 348.63H1110.4M1101.7 367.99H1110.4M1101.7 387.35H1110.4M1101.7 426.08H1110.4M1101.7 445.44H1110.4M1101.7 464.81H1110.4M1101.7 484.17H1110.4M1101.7 522.9H1110.4M1101.7 542.26H1110.4M1101.7 561.62H1110.4M1101.7 580.99H1110.4" stroke-width="1.2"/>
</g>
<g font-size="23.3" fill="#000" stroke="#000" stroke-width="0.2">
<g text-anchor="middle">
<text transform="translate(1102.1 623) scale(0.965 1)">0</text>
<text transform="translate(1207.45 623) scale(0.965 1)">60</text>
<text transform="translate(1312.8 623) scale(0.965 1)">120</text>
<path transform="translate(1312.8 623) scale(0.965 1)" d="M-18.96 -3.04H-13.73V1.3H-18.96ZM-11.37 -3.04H-6.32V1.3H-11.37Z" fill="#fff" stroke="none"/>
<text transform="translate(1418.15 623) scale(0.965 1)">180</text>
<path transform="translate(1418.15 623) scale(0.965 1)" d="M-18.96 -3.04H-13.73V1.3H-18.96ZM-11.37 -3.04H-6.32V1.3H-11.37Z" fill="#fff" stroke="none"/>
<text transform="translate(1523.5 623) scale(0.965 1)">240</text>
<text transform="translate(1628.85 623) scale(0.965 1)">300</text>
<text transform="translate(1734.2 623) scale(0.965 1)">360</text>
</g>
<g text-anchor="end">
<text transform="translate(1093.5 27.25) scale(0.965 1)">0</text>
<text transform="translate(1094.4 123.27) scale(0.965 1)">0.1</text>
<path transform="translate(1094.4 123.27) scale(0.965 1)" d="M-12.49 -3.04H-7.26V1.3H-12.49ZM-4.9 -3.04H0.15V1.3H-4.9Z" fill="#fff" stroke="none"/>
<text transform="translate(1093.5 220.08) scale(0.965 1)">0.2</text>
<text transform="translate(1093.5 316.9) scale(0.965 1)">0.3</text>
<text transform="translate(1093.5 413.72) scale(0.965 1)">0.4</text>
<text transform="translate(1093.5 510.53) scale(0.965 1)">0.5</text>
<text transform="translate(1093.5 607.35) scale(0.965 1)">0.6</text>
</g>
</g>
<g font-size="28.4" font-weight="bold" text-anchor="middle" fill="#000" stroke="#000" stroke-width="0.3">
<text x="1417.9" y="648.8" textLength="190" lengthAdjust="spacingAndGlyphs">Wake age[deg]</text>
<text transform="translate(1035 308.7) rotate(-90)" textLength="212" lengthAdjust="spacingAndGlyphs">Downward [-x/R]</text>
</g>
<rect x="1134.4" y="360.6" width="586.6" height="199.7" fill="#fff" stroke="#555" stroke-width="1.0"/>
<g fill="none" stroke-width="4.7">
<path d="M1151.2 397.7H1252.4" stroke="#ff00ff" stroke-dasharray="19.7 6.01"/>
<path d="M1151.2 425.5H1252.4" stroke="#ff8000" stroke-dasharray="6.5 6.3"/>
<path d="M1151.2 452.3H1252.4" stroke="#555555" stroke-dasharray="13 2.76 2.07 2.86 2.07 2.96"/>
<path d="M1151.2 479.6H1252.4" stroke="#cc0000"/>
<path d="M1151.2 506.7H1252.4" stroke="#00cc00" stroke-dasharray="48.46 15.66"/>
</g>
<rect x="1194.4" y="526.8" width="14.4" height="14.4" fill="#000"/>
<g font-size="23.05" font-weight="bold" fill="#000" stroke="#000" stroke-width="0.3">
<text transform="translate(1268.5 404.7) scale(0.975 1)">BC-total enthalpy (Grid2, Rc 10%, 10deg)</text>
<path transform="translate(1268.5 404.7) scale(0.975 1)" d="M313.82 -3.7H318.9V1.35H313.82ZM322.46 -3.7H327.25V1.35H322.46ZM372.74 -3.7H377.82V1.35H372.74ZM381.38 -3.7H386.17V1.35H381.38Z" fill="#fff" stroke="none"/>
<text transform="translate(1268.5 432.1) scale(0.975 1)">BC-total enthalpy (Grid2, Rc 10%, 5deg)</text>
<path transform="translate(1268.5 432.1) scale(0.975 1)" d="M313.82 -3.7H318.9V1.35H313.82ZM322.46 -3.7H327.25V1.35H322.46Z" fill="#fff" stroke="none"/>
<text transform="translate(1268.5 459) scale(0.975 1)">BC-total enthalpy (Grid2, Rc 1%, 10deg)</text>
<path transform="translate(1268.5 459) scale(0.975 1)" d="M313.82 -3.7H318.9V1.35H313.82ZM322.46 -3.7H327.25V1.35H322.46ZM359.93 -3.7H365.01V1.35H359.93ZM368.57 -3.7H373.36V1.35H368.57Z" fill="#fff" stroke="none"/>
<text transform="translate(1268.5 486.1) scale(0.975 1)">BC-total enthalpy (Grid2, Rc 1%, 5deg)</text>
<path transform="translate(1268.5 486.1) scale(0.975 1)" d="M313.82 -3.7H318.9V1.35H313.82ZM322.46 -3.7H327.25V1.35H322.46Z" fill="#fff" stroke="none"/>
<text transform="translate(1268.5 513.6) scale(0.975 1)">CFD</text>
<text transform="translate(1268.5 540.4) scale(0.975 1)">Exp</text>
</g>
<text y="709" font-size="38.4" fill="#000" stroke="#000" stroke-width="0.7"><tspan x="1050.93" textLength="46.74" lengthAdjust="spacingAndGlyphs">(b)</tspan> <tspan x="1104.34" textLength="91.24" lengthAdjust="spacingAndGlyphs">Wake</tspan> <tspan x="1203.87" textLength="161.81" lengthAdjust="spacingAndGlyphs">geometry</tspan> <tspan x="1375.27" textLength="34.68" lengthAdjust="spacingAndGlyphs">to</tspan> <tspan x="1416.84" textLength="179.9" lengthAdjust="spacingAndGlyphs">downward</tspan> <tspan x="1603.53" textLength="150.35" lengthAdjust="spacingAndGlyphs">direction</tspan></text>
</svg></body></html>
